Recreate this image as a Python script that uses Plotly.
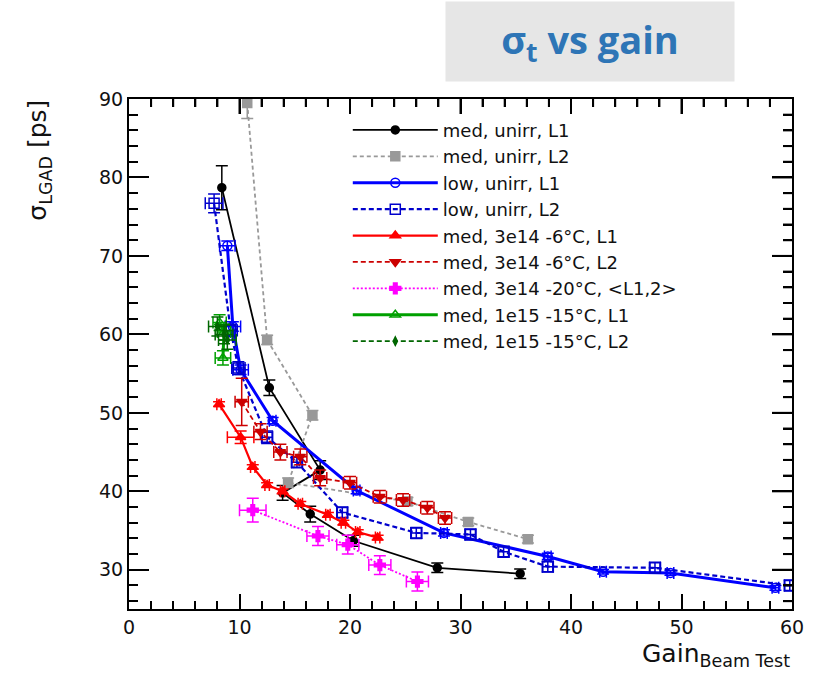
import plotly.graph_objects as go

# ---------------- data ----------------
med_unirr_L1_x = [8.4, 12.7, 17.3, 13.9, 16.4, 20.3, 27.9, 35.4]
med_unirr_L1_y = [78.7, 53.2, 42.7, 39.8, 37.1, 33.7, 30.25, 29.5]
med_unirr_L1_e = [2.8, 1.0, 1.2, 0.95, 1.0, 0.7, 0.6, 0.6]

med_unirr_L2_x = [10.7, 12.5, 16.6, 14.4, 25.2, 30.7, 36.1]
med_unirr_L2_y = [89.5, 59.3, 49.7, 41.1, 38.7, 36.1, 33.9]
med_unirr_L2_e = [2.0, 0.6, 0.6, 0.6, 0.5, 0.5, 0.5]

low_unirr_L1_x = [8.9, 9.4, 10.1, 13.0, 20.6, 28.5, 37.9, 42.9, 49.0, 58.5]
low_unirr_L1_y = [71.3, 61.0, 55.5, 49.0, 40.1, 34.7, 31.7, 29.75, 29.6, 27.7]
low_unirr_L1_e = [0.6, 0.6, 0.6, 0.4, 0.4, 0.4, 0.4, 0.3, 0.3, 0.3]
low_unirr_L1_ex = [0.7, 0.7, 0.7, 0.3, 0.3, 0.3, 0.3, 0.3, 0.3, 0.3]

low_unirr_L2_x = [7.7, 9.2, 9.9, 12.5, 15.2, 19.3, 26.0, 30.9, 33.9, 37.9, 47.6, 59.8]
low_unirr_L2_y = [76.7, 60.5, 55.7, 46.9, 43.7, 37.3, 34.7, 34.5, 32.3, 30.4, 30.25, 28.0]
low_unirr_L2_e = [1.2, 0.8, 0.8, 0.8, 0.7, 0.7, 0.7, 0.7, 0.7, 0.7, 0.7, 0.7]
low_unirr_L2_ex = [0.8, 0.6, 0.6, 0.5, 0.5, 0.5, 0.5, 0.5, 0.5, 0.5, 0.5, 0.5]

med_3e14_m6_L1_x = [8.15, 10.1, 11.2, 12.5, 13.9, 15.5, 18.0, 19.4, 20.7, 22.5]
med_3e14_m6_L1_y = [51.1, 46.9, 43.1, 40.8, 40.0, 38.4, 37.0, 36.0, 34.8, 34.1]
med_3e14_m6_L1_e = [0.3, 0.8, 0.3, 0.3, 0.3, 0.3, 0.3, 0.3, 0.3, 0.3]
med_3e14_m6_L1_ex = [0.2, 1.2, 0.2, 0.2, 0.2, 0.2, 0.2, 0.2, 0.2, 0.2]

med_3e14_m6_L2_x = [10.2, 11.9, 13.7, 15.5, 17.3, 20.0, 22.7, 24.8, 27.0, 28.6]
med_3e14_m6_L2_y = [51.4, 47.6, 45.0, 44.4, 41.7, 41.1, 39.3, 38.9, 37.9, 36.6]
med_3e14_m6_L2_e = [3.0, 1.0, 1.0, 1.0, 1.0, 0.8, 0.8, 0.8, 0.8, 0.8]
med_3e14_m6_L2_ex = [0.6, 0.6, 0.6, 0.6, 0.6, 0.6, 0.6, 0.6, 0.6, 0.6]

med_3e14_m20_x = [11.2, 17.1, 19.8, 22.7, 26.1]
med_3e14_m20_y = [37.6, 34.3, 33.2, 30.6, 28.5]
med_3e14_m20_e = [1.5, 1.2, 1.2, 1.2, 1.2]
med_3e14_m20_ex = [1.2, 1.0, 1.0, 1.0, 1.0]

med_1e15_L1_x = [8.2, 8.6, 8.5]
med_1e15_L1_y = [61.5, 60.3, 57.0]
med_1e15_L1_e = [1.0, 1.0, 0.9]
med_1e15_L1_ex = [0.6, 0.6, 0.7]

med_1e15_L2_x = [8.0, 8.6, 8.9]
med_1e15_L2_y = [61.0, 60.0, 59.3]
med_1e15_L2_e = [1.2, 1.2, 1.2]
med_1e15_L2_ex = [0.8, 0.8, 0.8]

legend_names = [
    "med, unirr, L1", "med, unirr, L2", "low, unirr, L1", "low, unirr, L2",
    "med, 3e14 -6°C, L1", "med, 3e14 -6°C, L2", "med, 3e14 -20°C, <L1,2>",
    "med, 1e15 -15°C, L1", "med, 1e15 -15°C, L2",
]

x_ticks = [0, 10, 20, 30, 40, 50, 60]
y_ticks = [30, 40, 50, 60, 70, 80, 90]
x_range = [0, 60]
y_range = [25, 90]

FONT = "DejaVu Sans, Liberation Sans, Arial, sans-serif"

PLOT_W = 821 - 129 - 29
PLOT_H = 678 - 99 - 69
PX_X = (x_range[1] - x_range[0]) / PLOT_W   # data units per pixel
PX_Y = (y_range[1] - y_range[0]) / PLOT_H

# ---------------- figure ----------------
fig = go.Figure()


def add(x, y, ey, name, color, dash, width, symbol, size, ex=None, ecolor=None):
    ecolor = ecolor or color
    tr = dict(
        x=x, y=y, name=name, mode="lines+markers",
        line=dict(color=color, dash=dash, width=width),
        marker=dict(color=color, symbol=symbol, size=size,
                    line=dict(color=color, width=1.5)),
        error_y=dict(type="data", array=ey, color=ecolor, thickness=1.5, width=6),
    )
    if ex is not None:
        tr["error_x"] = dict(type="data", array=ex, color=ecolor, thickness=1.5, width=6)
    fig.add_trace(go.Scatter(**tr))


add(med_unirr_L1_x, med_unirr_L1_y, med_unirr_L1_e, legend_names[0],
    "#000000", "solid", 1.8, "circle", 8)
add(med_unirr_L2_x, med_unirr_L2_y, med_unirr_L2_e, legend_names[1],
    "#999999", "4px,3px", 1.8, "square", 9)
add(low_unirr_L1_x, low_unirr_L1_y, low_unirr_L1_e, legend_names[2],
    "#0000ff", "solid", 3, "circle-open", 9, ex=low_unirr_L1_ex)
add(low_unirr_L2_x, low_unirr_L2_y, low_unirr_L2_e, legend_names[3],
    "#0000cc", "5px,3px", 2.2, "square-open", 10, ex=low_unirr_L2_ex)
add(med_3e14_m6_L1_x, med_3e14_m6_L1_y, med_3e14_m6_L1_e, legend_names[4],
    "#ff0000", "solid", 2.2, "triangle-up", 9, ex=med_3e14_m6_L1_ex)
add(med_3e14_m6_L2_x, med_3e14_m6_L2_y, med_3e14_m6_L2_e, legend_names[5],
    "#cc0000", "5px,3px", 1.8, "triangle-down", 9, ex=med_3e14_m6_L2_ex)
add(med_3e14_m20_x, med_3e14_m20_y, med_3e14_m20_e, legend_names[6],
    "#ff00ff", "2px,2px", 1.8, "cross", 9, ex=med_3e14_m20_ex)
add(med_1e15_L1_x, med_1e15_L1_y, med_1e15_L1_e, legend_names[7],
    "#00a000", "solid", 3, "triangle-up-open", 9, ex=med_1e15_L1_ex)
add(med_1e15_L2_x, med_1e15_L2_y, med_1e15_L2_e, legend_names[8],
    "#006600", "5px,3px", 1.8, "diamond-tall", 6, ex=med_1e15_L2_ex)

# ROOT-style ticks on the top and right frame edges (major every 10, minor every 2)
tx, ty = [], []
for v in range(2, 60, 2):
    ln = (15 if v % 10 == 0 else 8) * PX_Y
    tx += [v, v, None]
    ty += [y_range[1], y_range[1] - ln, None]
for v in range(26, 90, 2):
    ln = (20 if v % 10 == 0 else 9) * PX_X
    tx += [x_range[1], x_range[1] - ln, None]
    ty += [v, v, None]
fig.add_trace(go.Scatter(x=tx, y=ty, mode="lines", line=dict(color="black", width=2),
                         showlegend=False, hoverinfo="skip"))

axis_common = dict(
    showgrid=False, zeroline=False, showline=True, linecolor="black", linewidth=2,
    mirror="allticks", ticks="inside", tickcolor="black", tickwidth=1.5,
    tickfont=dict(family=FONT, size=19, color="#111"),
)
minor_x = dict(dtick=2, ticks="inside", ticklen=8, tickcolor="black", tickwidth=1.5)
minor_y = dict(dtick=2, ticks="inside", ticklen=9, tickcolor="black", tickwidth=1.5)

fig.update_layout(
    width=821, height=678,
    margin=dict(l=129, r=29, t=99, b=69),
    paper_bgcolor="white", plot_bgcolor="white",
    showlegend=True,
    legend=dict(
        x=0.33, y=0.975, xanchor="left", yanchor="top",
        font=dict(family=FONT, size=18, color="#111"),
        bgcolor="rgba(255,255,255,0)", itemwidth=85, tracegroupgap=0,
    ),
    xaxis=dict(range=x_range, tickvals=x_ticks, ticklen=15, minor=minor_x, **axis_common),
    yaxis=dict(range=y_range, tickvals=y_ticks, ticklen=20, minor=minor_y, **axis_common),
)

fig.add_annotation(
    xref="paper", yref="paper", x=-0.135, y=0.88, xanchor="center", yanchor="middle",
    text="σ<sub>LGAD</sub> [ps]", textangle=-90, showarrow=False,
    font=dict(family=FONT, size=25, color="#111"),
)
fig.add_annotation(
    xref="paper", yref="paper", x=1.0, y=-0.055, xanchor="right", yanchor="top",
    text="Gain<sub>Beam Test</sub>", showarrow=False,
    font=dict(family=FONT, size=25, color="#111"),
)
fig.add_annotation(
    xref="paper", yref="paper", x=0.695, y=1.113, xanchor="center", yanchor="middle",
    text="<b>σ<sub>t</sub> vs gain</b>", showarrow=False,
    width=286, height=77, bgcolor="#e6e6e6",
    font=dict(family="Open Sans, sans-serif", size=38, color="#2e75b6"),
)

fig.write_html("out.html")
